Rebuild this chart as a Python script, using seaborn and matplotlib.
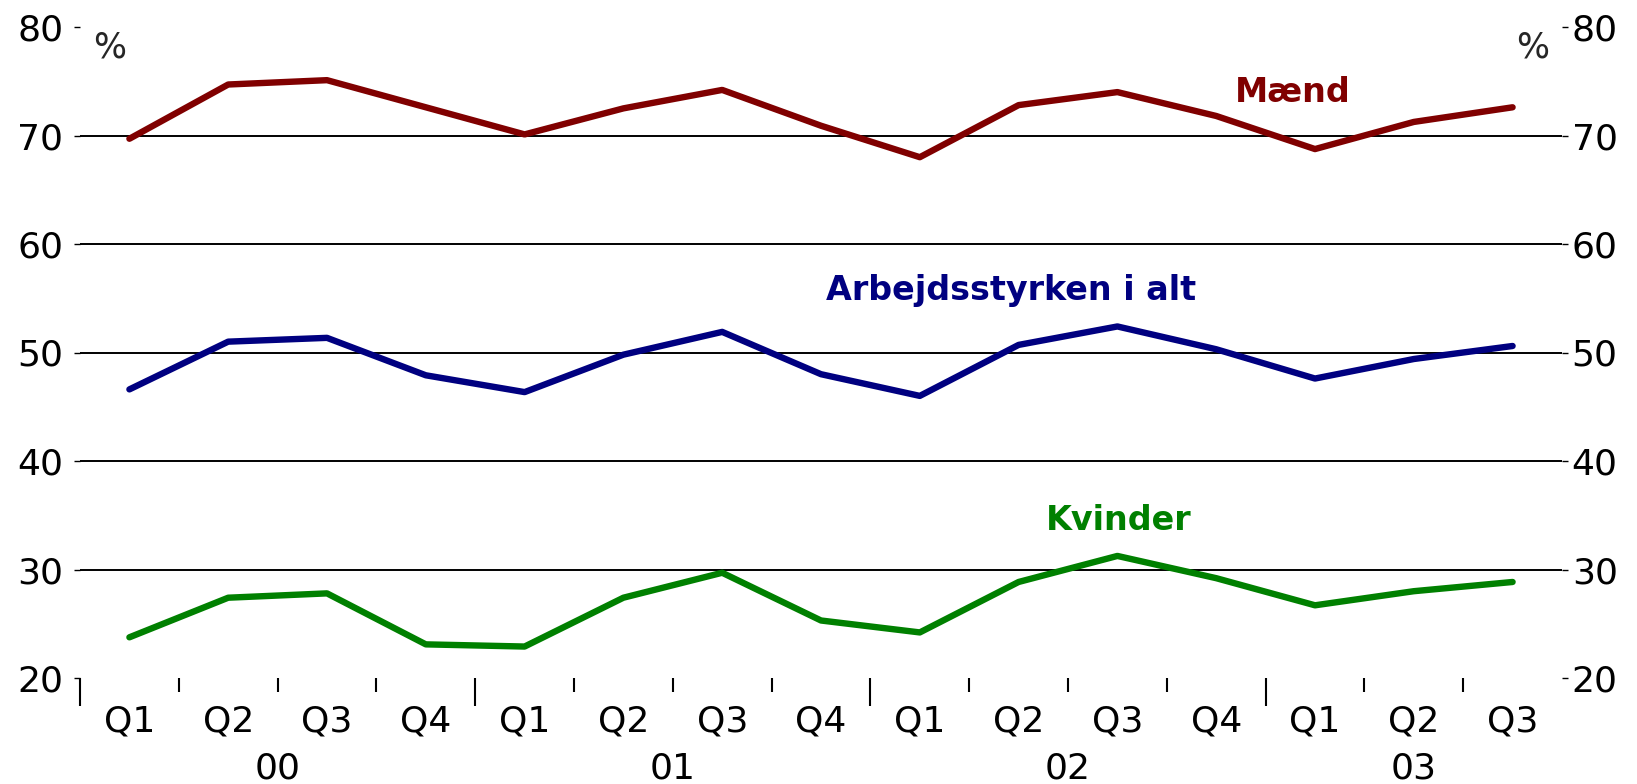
import matplotlib
matplotlib.use("Agg")
import matplotlib.pyplot as plt
import seaborn as sns
import pandas as pd
import numpy as np

quarters = ["Q1", "Q2", "Q3", "Q4", "Q1", "Q2", "Q3", "Q4",
            "Q1", "Q2", "Q3", "Q4", "Q1", "Q2", "Q3"]
years = ["00", "01", "02", "03"]
year_label_pos = [1.5, 5.5, 9.5, 13]
year_boundaries = [-0.5, 3.5, 7.5, 11.5]

maend = [69.7, 74.7, 75.1, 72.6, 70.1, 72.5, 74.2, 70.9,
         68.0, 72.8, 74.0, 71.8, 68.75, 71.25, 72.6]
i_alt = [46.6, 51.0, 51.35, 47.9, 46.35, 49.8, 51.9, 48.0,
         46.0, 50.7, 52.4, 50.3, 47.6, 49.4, 50.6]
kvinder = [23.75, 27.4, 27.8, 23.1, 22.9, 27.4, 29.7, 25.3,
           24.2, 28.85, 31.25, 29.2, 26.7, 28.0, 28.85]

series_names = ["Mænd", "Arbejdsstyrken i alt", "Kvinder"]
colors = ["#800000", "#000080", "#008000"]
yticks = [20, 30, 40, 50, 60, 70, 80]
gridlines = [30, 40, 50, 60, 70]

idx = np.arange(len(quarters))
df = pd.concat([
    pd.DataFrame({"t": idx, "v": vals, "serie": name})
    for name, vals in zip(series_names, [maend, i_alt, kvinder])
])

sns.set_theme(style="white")
plt.rcParams["font.family"] = ["DejaVu Sans"]

fig = plt.figure(figsize=(16.37, 7.84), dpi=100)
ax = fig.add_axes([80/1637, 1-678/784, (1562-80)/1637, (678-27)/784])

sns.lineplot(data=df, x="t", y="v", hue="serie", palette=colors,
             linewidth=4.6, ax=ax, legend=False)

ax.set_xlim(-0.5, 14.5)
ax.set_ylim(20, 80)
ax.set_xlabel("")
ax.set_ylabel("")
for s in ax.spines.values():
    s.set_visible(False)

for yv in gridlines:
    ax.axhline(yv, color="black", linewidth=1.4, zorder=0)

# left y axis
ax.set_yticks(yticks)
ax.set_yticklabels([str(v) for v in yticks])
ax.tick_params(axis="y", left=True, right=False, labelleft=True, labelright=False,
               length=4, width=1, color="black", pad=8, labelsize=26,
               labelcolor="black", direction="out")

# right y axis
secy = ax.secondary_yaxis("right")
secy.set_yticks(yticks)
secy.set_yticklabels([str(v) for v in yticks])
secy.tick_params(length=4, width=1, color="black", pad=3, labelsize=26,
                 labelcolor="black", direction="out")
for s in secy.spines.values():
    s.set_visible(False)

# quarter labels (no tick marks)
ax.set_xticks(idx)
ax.set_xticklabels(quarters)
ax.tick_params(axis="x", which="major", length=0, pad=19, labelsize=26, labelcolor="black")
# quarter boundary ticks
minor_b = [b for b in np.arange(0.5, 14.0, 1.0) if b not in year_boundaries]
ax.set_xticks(minor_b, minor=True)
ax.tick_params(axis="x", which="minor", bottom=True, length=10, width=1.5,
               color="black", direction="out")

# year boundary long ticks
sec1 = ax.secondary_xaxis("bottom")
sec1.set_xticks(year_boundaries)
sec1.set_xticklabels([""] * len(year_boundaries))
sec1.tick_params(length=20, width=1.5, color="black", direction="out")
for s in sec1.spines.values():
    s.set_visible(False)

# year labels
sec2 = ax.secondary_xaxis("bottom")
sec2.set_xticks(year_label_pos)
sec2.set_xticklabels(years)
sec2.tick_params(length=0, pad=53, labelsize=26, labelcolor="black")
for s in sec2.spines.values():
    s.set_visible(False)

# percent signs
fig.text(110/1637, 1-48/784, "%", fontsize=25, ha="center", va="center")
fig.text(1533/1637, 1-48/784, "%", fontsize=25, ha="center", va="center")

# series labels
label_pos = [(1293, 93), (1011, 290), (1119, 520)]
for name, col, (px, py) in zip(series_names, colors, label_pos):
    fig.text(px/1637, 1-py/784, name, color=col, fontsize=24, fontweight="bold",
             ha="center", va="center")

fig.savefig("out.png", dpi=100)
